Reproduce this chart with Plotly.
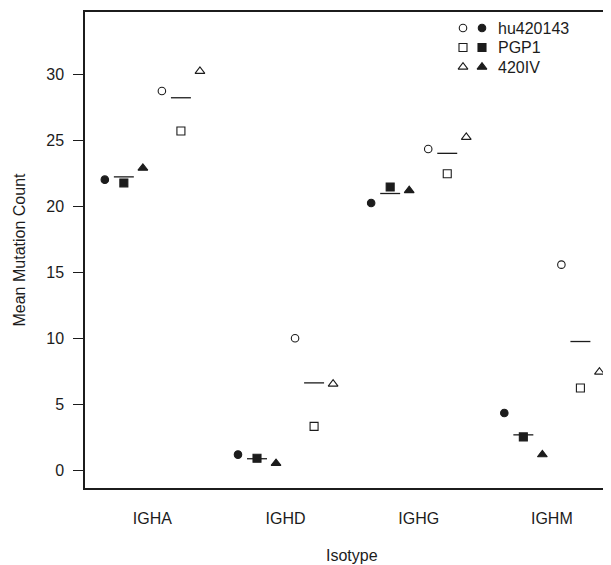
import plotly.graph_objects as go

# ---- data ----
categories = ["IGHA", "IGHD", "IGHG", "IGHM"]
samples = ["hu420143", "PGP1", "420IV"]
# open-symbol group
open_hu420143 = [28.74, 10.00, 24.34, 15.58]
open_PGP1 = [25.70, 3.33, 22.47, 6.24]
open_420IV = [30.23, 6.54, 25.23, 7.45]
# filled-symbol group
filled_hu420143 = [22.02, 1.19, 20.25, 4.34]
filled_PGP1 = [21.77, 0.91, 21.46, 2.53]
filled_420IV = [22.90, 0.53, 21.20, 1.19]
y_ticks = [0, 5, 10, 15, 20, 25, 30]

INK = "#1c1c1c"
FONT = "Liberation Sans, Arial, sans-serif"
FS = 16

open_series = [open_hu420143, open_PGP1, open_420IV]
filled_series = [filled_hu420143, filled_PGP1, filled_420IV]
open_symbols = ["circle-open", "square-open", "triangle-up-open"]
filled_symbols = ["circle", "square", "triangle-up"]
sym_sizes = [7.5, 8, 8.5]

filled_offsets = [-5 / 14, -3 / 14, -1 / 14]
open_offsets = [1 / 14, 3 / 14, 5 / 14]
half_line = 0.075
XR = [0.494, 4.444]

xpos = [i + 1 for i in range(len(categories))]

fig = go.Figure()

for series, offsets, symbols in [
    (filled_series, filled_offsets, filled_symbols),
    (open_series, open_offsets, open_symbols),
]:
    for s_idx, (vals, off, sym) in enumerate(zip(series, offsets, symbols)):
        fig.add_trace(go.Scatter(
            x=[p + off for p in xpos], y=vals, mode="markers",
            marker=dict(symbol=sym, size=sym_sizes[s_idx], color=INK,
                        line=dict(color=INK, width=1.1)),
            showlegend=False, hoverinfo="skip", cliponaxis=False))
    # group mean lines
    center = offsets[1]
    lx, ly = [], []
    for c in range(len(categories)):
        m = sum(s[c] for s in series) / len(series)
        lx += [xpos[c] + center - half_line, xpos[c] + center + half_line, None]
        ly += [m, m, None]
    fig.add_trace(go.Scatter(x=lx, y=ly, mode="lines",
                             line=dict(color=INK, width=1.3),
                             showlegend=False, hoverinfo="skip"))

# ---- custom legend on an overlay pixel axis (page pixel coordinates) ----
leg_rows_y = [28, 47.5, 67]
leg_open_x, leg_filled_x, leg_text_x = 463, 482, 496
for i, name in enumerate(samples):
    fig.add_trace(go.Scatter(
        x=[leg_open_x, leg_filled_x], y=[leg_rows_y[i]] * 2, mode="markers",
        marker=dict(symbol=[open_symbols[i], filled_symbols[i]], size=sym_sizes[i],
                    color=INK, line=dict(color=INK, width=1.1)),
        xaxis="x2", yaxis="y2", showlegend=False, hoverinfo="skip"))
    fig.add_annotation(x=leg_text_x, y=leg_rows_y[i], xref="x2", yref="y2",
                       text=name, showarrow=False, xanchor="left", yanchor="middle",
                       font=dict(family=FONT, size=FS, color=INK))

# page has an 8px body margin: compensate so the plot box sits at x 85..611, y 12..488
fig.update_layout(
    width=603, height=557,
    margin=dict(l=77, r=0, t=4, b=77),
    paper_bgcolor="white", plot_bgcolor="white",
    showlegend=False,
    font=dict(family=FONT, size=FS, color=INK),
    xaxis=dict(range=XR, tickvals=xpos, ticktext=categories,
               ticks="", showgrid=False, zeroline=False,
               showline=True, mirror=True, linecolor=INK, linewidth=1.5,
               ticklabelstandoff=15,
               tickfont=dict(family=FONT, size=FS, color=INK)),
    yaxis=dict(range=[-1.34, 34.72], tickvals=y_ticks,
               ticks="outside", ticklen=10, tickwidth=1.3, tickcolor=INK,
               showgrid=False, zeroline=False,
               showline=True, linecolor=INK, linewidth=1.5,
               ticklabelstandoff=6,
               tickfont=dict(family=FONT, size=FS, color=INK)),
    xaxis2=dict(range=[85, 611], overlaying="x", visible=False, domain=[0, 1]),
    yaxis2=dict(range=[488, 12], overlaying="y", visible=False, domain=[0, 1]),
)

fig.add_annotation(text="Mean Mutation Count", xref="paper", yref="paper",
                   x=0, y=0.5, xshift=-66.5, textangle=-90, showarrow=False,
                   xanchor="center", yanchor="middle",
                   font=dict(family=FONT, size=FS, color=INK))
fig.add_annotation(text="Isotype", xref="paper", yref="paper",
                   x=(2.5 - XR[0]) / (XR[1] - XR[0]), y=0,
                   yshift=-67, showarrow=False, xanchor="center", yanchor="middle",
                   font=dict(family=FONT, size=FS, color=INK))

fig.write_html("out.html")
